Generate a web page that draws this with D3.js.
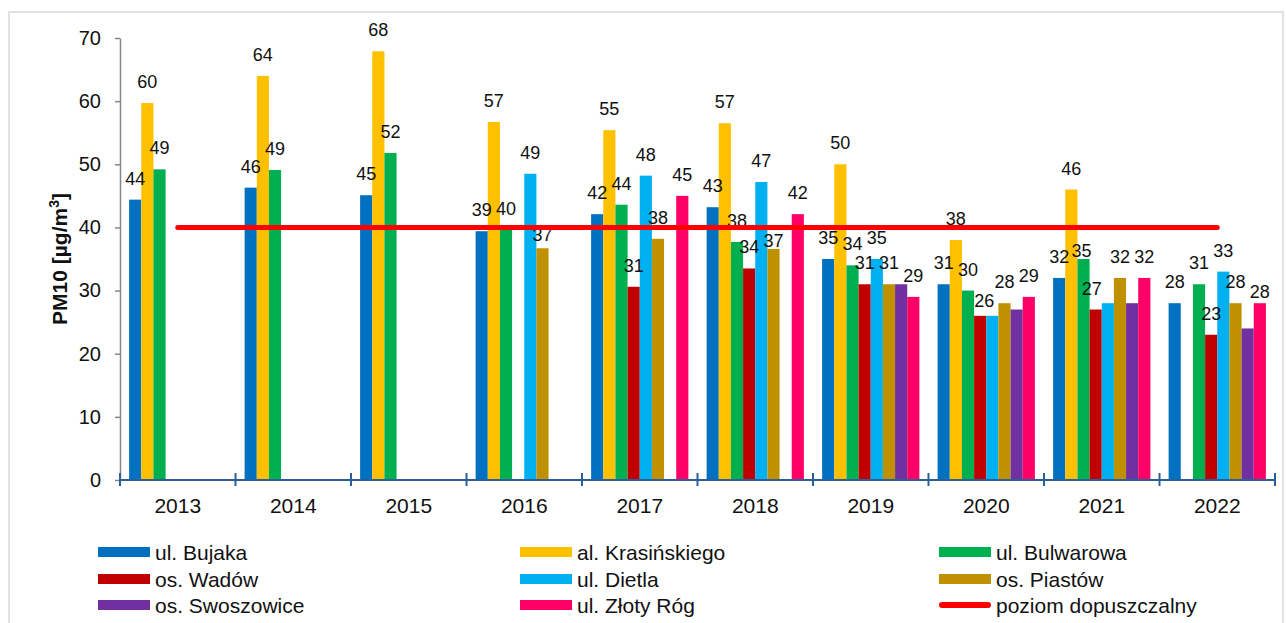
<!DOCTYPE html>
<html>
<head>
<meta charset="utf-8">
<script src="https://cdn.jsdelivr.net/npm/d3@7"></script>
<style>
  body { margin: 0; background: #fff; }
  text { font-family: "Liberation Sans", Arial, sans-serif; fill: #111; }
</style>
</head>
<body>
<div id="chart"></div>
<script>
// PM10 annual means per station
const years = ["2013", "2014", "2015", "2016", "2017", "2018", "2019", "2020", "2021", "2022"];
const seriesNames = ["ul. Bujaka", "al. Krasińskiego", "ul. Bulwarowa", "os. Wadów",
                     "ul. Dietla", "os. Piastów", "os. Swoszowice", "ul. Złoty Róg"];
const bujaka       = [44.4, 46.3, 45.1, 39.4, 42.1, 43.2, 35, 31, 32, 28];
const krasinskiego = [59.7, 64.0, 67.9, 56.7, 55.4, 56.5, 50, 38, 46, null];
const bulwarowa    = [49.2, 49.1, 51.8, 39.6, 43.6, 37.7, 34, 30, 35, 31];
const wadow        = [null, null, null, null, 30.6, 33.5, 31, 26, 27, 23];
const dietla       = [null, null, null, 48.5, 48.2, 47.2, 35, 26, 28, 33];
const piastow      = [null, null, null, 36.7, 38.2, 36.6, 31, 28, 32, 28];
const swoszowice   = [null, null, null, null, null, null, 31, 27, 28, 24];
const zlotyRog     = [null, null, null, null, 45.0, 42.1, 29, 29, 32, 28];
const limitValue = 40;
const limitName = "poziom dopuszczalny";
const yTicks = [0, 10, 20, 30, 40, 50, 60, 70];

const seriesValues = [bujaka, krasinskiego, bulwarowa, wadow, dietla, piastow, swoszowice, zlotyRog];
const colors = ["#0070C0", "#FFC000", "#00B050", "#C00000", "#00B0F0", "#BF9000", "#7030A0", "#FF0066"];

// labels hidden / moved by hand in the original
const hiddenLabels = new Set(["2019|os. Swoszowice", "2020|ul. Dietla", "2020|os. Swoszowice",
                              "2021|ul. Dietla", "2021|os. Swoszowice", "2022|os. Swoszowice"]);
const labelNudge = {
  "2016|os. Piastów": [0, 8],
  "2018|os. Piastów": [0, 13],
  "2020|os. Wadów": [4, 6],
  "2021|ul. Bulwarowa": [-2, 13],
  "2021|os. Wadów": [-4, 0],
  "2022|ul. Złoty Róg": [0, 10]
};

const W = 1286, H = 623;
const margin = { top: 38, left: 120, right: 11, bottom: 143 };

const svg = d3.select("#chart")
  .append("svg")
  .attr("width", W)
  .attr("height", H);

// outer frame
svg.append("rect")
  .attr("x", 9).attr("y", 12)
  .attr("width", 1274).attr("height", 640)
  .attr("fill", "none")
  .attr("stroke", "#d9d9d9")
  .attr("stroke-width", 1.5);

const x0 = d3.scaleBand()
  .domain(years)
  .range([margin.left, W - margin.right])
  .padding(0);

const x1 = d3.scaleBand()
  .domain(seriesNames)
  .range([0, x0.bandwidth()])
  .paddingInner(0)
  .paddingOuter(0.75);

const y = d3.scaleLinear()
  .domain([0, 70])
  .range([H - margin.bottom, margin.top]);

// y axis
const yAxis = svg.append("g")
  .attr("transform", `translate(${margin.left},0)`)
  .call(d3.axisLeft(y).tickValues(yTicks).tickSize(5).tickSizeOuter(0).tickPadding(14));
yAxis.selectAll("path, line").attr("stroke", "#868686").attr("stroke-width", 1.5);
yAxis.selectAll("text")
  .style("font-size", "20px")
  .style("font-family", "'Liberation Sans', Arial, sans-serif")
  .attr("fill", "#111");

const yLabel = svg.append("text")
  .attr("transform", `translate(67,${(margin.top + H - margin.bottom) / 2}) rotate(-90)`)
  .attr("text-anchor", "middle")
  .style("font-size", "21px")
  .style("font-weight", "bold");
yLabel.append("tspan").text("PM10 [µg/m");
yLabel.append("tspan").attr("dy", -8).style("font-size", "14px").text("3");
yLabel.append("tspan").attr("dy", 8).text("]");

// bars
const groups = svg.append("g")
  .selectAll("g")
  .data(years)
  .join("g")
  .attr("transform", d => `translate(${x0(d)},0)`);

const cells = (year, i) => seriesNames.map((name, s) => ({
  year, name, value: seriesValues[s][i], color: colors[s]
})).filter(d => d.value != null);

groups.selectAll("rect")
  .data(cells)
  .join("rect")
  .attr("x", d => x1(d.name))
  .attr("y", d => y(d.value))
  .attr("width", x1.bandwidth())
  .attr("height", d => y(0) - y(d.value))
  .attr("fill", d => d.color);

// x axis
const xAxisColor = "#2a6099";
const xAxis = svg.append("g")
  .attr("transform", `translate(0,${y(0)})`)
  .call(d3.axisBottom(x0).tickSize(0).tickPadding(18));
xAxis.select(".domain").remove();
xAxis.selectAll("text")
  .style("font-size", "21px")
  .style("font-family", "'Liberation Sans', Arial, sans-serif")
  .attr("fill", "#111");

svg.append("line")
  .attr("x1", x0.range()[0]).attr("x2", x0.range()[1])
  .attr("y1", y(0)).attr("y2", y(0))
  .attr("stroke", xAxisColor)
  .attr("stroke-width", 2);

const boundaries = years.map(d => x0(d)).concat([x0.range()[1]]);
svg.append("g")
  .selectAll("line")
  .data(boundaries)
  .join("line")
  .attr("x1", d => d).attr("x2", d => d)
  .attr("y1", y(0) - 7).attr("y2", y(0) + 6)
  .attr("stroke", xAxisColor)
  .attr("stroke-width", 2);

// limit line
svg.append("line")
  .attr("x1", x0(years[0]) + x0.bandwidth() / 2)
  .attr("x2", x0(years[years.length - 1]) + x0.bandwidth() / 2)
  .attr("y1", y(limitValue)).attr("y2", y(limitValue))
  .attr("stroke", "#FF0000")
  .attr("stroke-width", 5)
  .attr("stroke-linecap", "round");

// data labels
groups.selectAll("text.lbl")
  .data(cells)
  .join("text")
  .attr("class", "lbl")
  .filter(d => !hiddenLabels.has(`${d.year}|${d.name}`))
  .attr("x", d => x1(d.name) + x1.bandwidth() / 2 + (labelNudge[`${d.year}|${d.name}`] || [0, 0])[0])
  .attr("y", d => y(d.value) - 15 + (labelNudge[`${d.year}|${d.name}`] || [0, 0])[1])
  .attr("text-anchor", "middle")
  .style("font-size", "18px")
  .text(d => Math.round(d.value));

// legend
const legendItems = seriesNames.map((name, s) => ({ name, color: colors[s], line: false }))
  .concat([{ name: limitName, color: "#FF0000", line: true }]);
const colX = [98, 520, 939];
const rowY = [552, 579, 605];

const legend = svg.append("g")
  .selectAll("g")
  .data(legendItems)
  .join("g")
  .attr("transform", (d, i) => `translate(${colX[i % 3]},${rowY[Math.floor(i / 3)]})`);

legend.filter(d => !d.line)
  .append("rect")
  .attr("x", 0).attr("y", -5)
  .attr("width", 52).attr("height", 10)
  .attr("fill", d => d.color);

legend.filter(d => d.line)
  .append("line")
  .attr("x1", 3).attr("x2", 49)
  .attr("y1", 0).attr("y2", 0)
  .attr("stroke", d => d.color)
  .attr("stroke-width", 6)
  .attr("stroke-linecap", "round");

legend.append("text")
  .attr("x", 57)
  .attr("dy", "0.36em")
  .style("font-size", "21px")
  .text(d => d.name);
</script>
</body>
</html>
